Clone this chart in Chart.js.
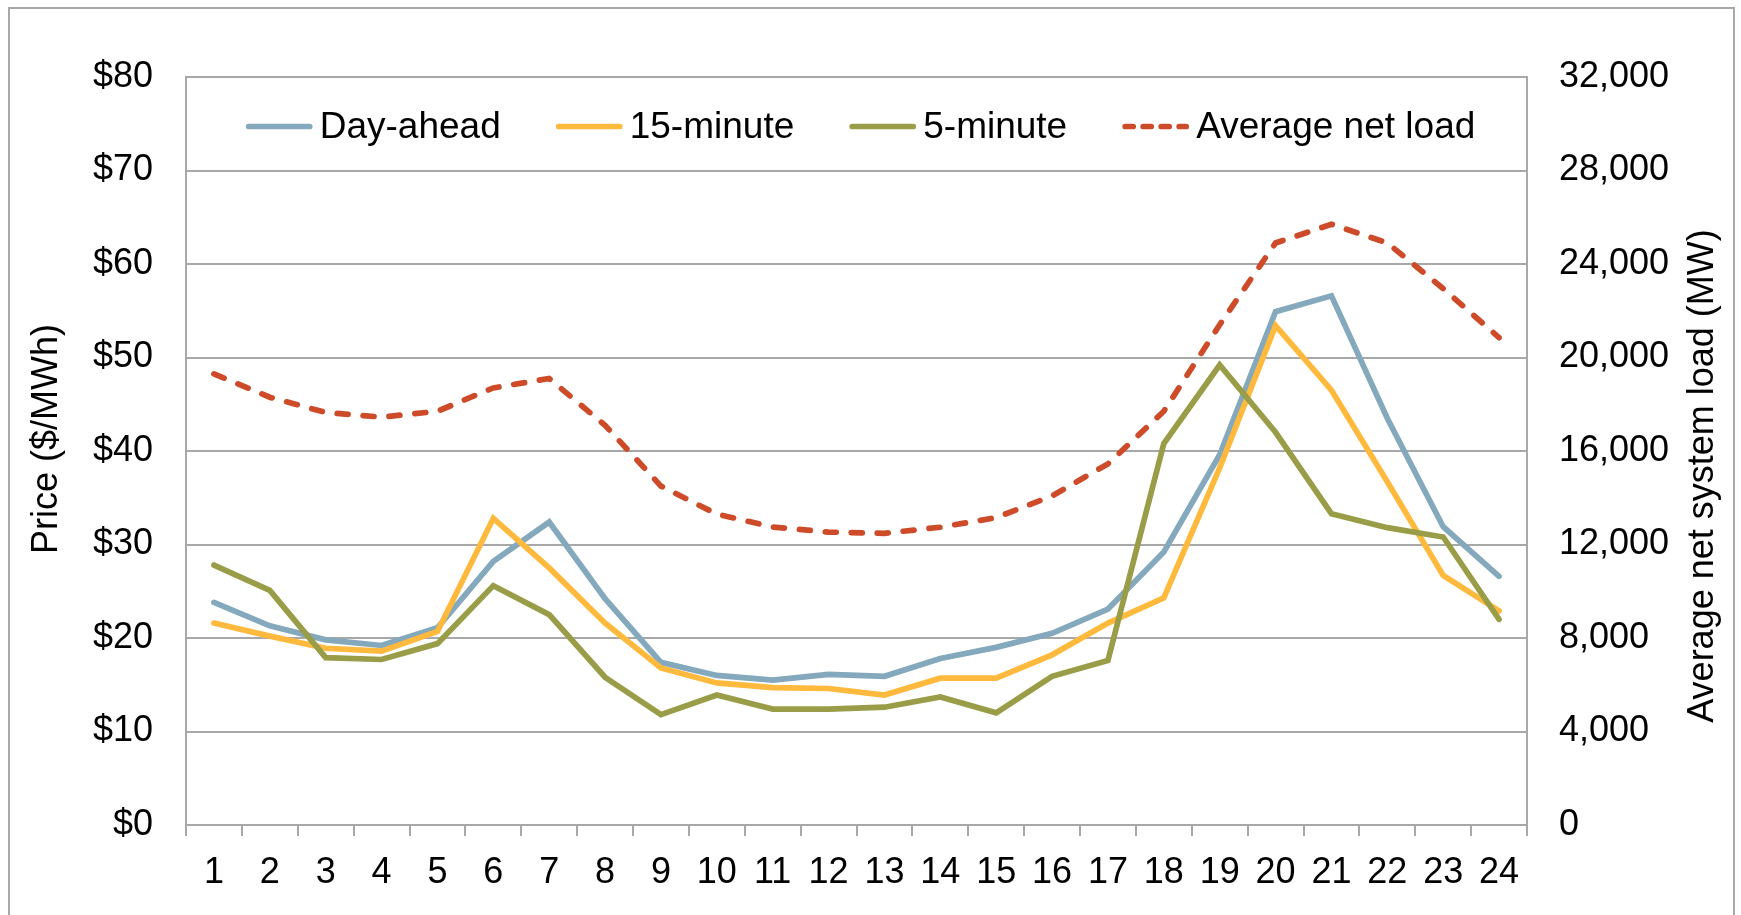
<!DOCTYPE html>
<html lang="en">
<head>
<meta charset="UTF-8">
<title>Hourly prices and average net load</title>
<script src="https://cdn.jsdelivr.net/npm/chart.js"></script>
<style>
  html, body { margin: 0; padding: 0; background: #fff; }
  canvas { display: block; }
</style>
</head>
<body>
<canvas id="grafico" width="1741" height="915"></canvas>

<script>
    const hours = ['1','2','3','4','5','6','7','8','9','10','11','12',
                   '13','14','15','16','17','18','19','20','21','22','23','24'];

    // $/MWh
    const dayAhead = [23.8, 21.3, 19.8, 19.2, 21.1, 28.2, 32.4, 24.2, 17.4, 16.0, 15.5, 16.1,
                      15.9, 17.8, 19.0, 20.5, 23.1, 29.2, 39.6, 54.9, 56.6, 43.5, 31.9, 26.6];
    const fifteenMin = [21.6, 20.2, 18.9, 18.6, 20.7, 32.8, 27.5, 21.6, 16.8, 15.2, 14.7, 14.6,
                        13.9, 15.7, 15.7, 18.2, 21.6, 24.3, 38.2, 53.4, 46.5, 36.7, 26.7, 22.9];
    const fiveMin = [27.8, 25.1, 17.9, 17.7, 19.4, 25.6, 22.5, 15.8, 11.8, 13.9, 12.4, 12.4,
                     12.6, 13.7, 12.0, 15.9, 17.6, 40.8, 49.2, 42.0, 33.3, 31.8, 30.8, 22.0];
    // MW
    const netLoad = [19300, 18300, 17650, 17450, 17700, 18700, 19100, 17100, 14500, 13300, 12750, 12530,
                     12480, 12740, 13150, 14080, 15450, 17700, 21400, 24900, 25700, 24900, 22950, 20850];

    const seriesNames = ['Day-ahead', '15-minute', '5-minute', 'Average net load'];
    const priceTitle = 'Price ($/MWh)';
    const loadTitle = 'Average net system load (MW)';

    const FONT = '"Liberation Sans", Arial, sans-serif';
    const GRAY = '#a8a8a8';

    // frame, axis titles (both read bottom-to-top) and the legend inside the plot
    const extras = {
        id: 'extras',
        beforeDraw(chart) {
            const ctx = chart.ctx;
            ctx.save();
            ctx.fillStyle = '#fff';
            ctx.fillRect(0, 0, chart.width, chart.height);
            ctx.strokeStyle = GRAY;
            ctx.lineWidth = 2;
            ctx.strokeRect(9, 8, 1725, 940);
            ctx.restore();
        },
        afterDraw(chart) {
            const ctx = chart.ctx;
            ctx.save();
            ctx.fillStyle = '#000';
            ctx.font = '36px ' + FONT;
            ctx.textAlign = 'center';
            ctx.textBaseline = 'middle';

            ctx.save();
            ctx.translate(47, 439);
            ctx.rotate(-Math.PI / 2);
            ctx.fillText(priceTitle, 0, 0);
            ctx.restore();

            ctx.save();
            ctx.translate(1703, 476);
            ctx.rotate(-Math.PI / 2);
            ctx.fillText(loadTitle, 0, 0);
            ctx.restore();

            // legend
            ctx.font = '37px ' + FONT;
            const lineW = 67, gapText = 7, gapItem = 55, y = 126.5;
            const ds = chart.data.datasets;
            const widths = ds.map(d => lineW + gapText + ctx.measureText(d.label).width);
            const total = widths.reduce((a, b) => a + b, 0) + gapItem * (ds.length - 1);
            const area = chart.chartArea;
            let x = (area.left + area.right) / 2 - total / 2 + 4;
            ctx.textAlign = 'left';
            ds.forEach((d, i) => {
                ctx.save();
                ctx.strokeStyle = d.borderColor;
                ctx.lineWidth = d.borderWidth;
                ctx.lineCap = 'round';
                ctx.setLineDash(d.borderDash && d.borderDash.length ? [8, 10] : []);
                ctx.beginPath();
                ctx.moveTo(x + 3, y);
                ctx.lineTo(x + lineW - 3, y);
                ctx.stroke();
                ctx.restore();
                ctx.fillText(d.label, x + lineW + gapText, y + 1);
                x += widths[i] + gapItem;
            });
            ctx.restore();
        }
    };

    function lineSet(label, data, color, axis, order) {
        return {
            label: label,
            data: data,
            yAxisID: axis,
            borderColor: color,
            backgroundColor: color,
            borderWidth: 5.7,
            pointRadius: 0,
            pointHoverRadius: 0,
            tension: 0,
            borderJoinStyle: 'miter',
            borderCapStyle: 'round',
            order: order
        };
    }

    const datasets = [
        lineSet(seriesNames[0], dayAhead, '#84a8bc', 'y', 3),
        lineSet(seriesNames[1], fifteenMin, '#ffb93c', 'y', 2),
        lineSet(seriesNames[2], fiveMin, '#9a9d48', 'y', 1),
        Object.assign(lineSet(seriesNames[3], netLoad, '#cd4b29', 'y2', 0), { borderDash: [11, 15] })
    ];

    new Chart(document.getElementById('grafico').getContext('2d'), {
        type: 'line',
        data: { labels: hours, datasets: datasets },
        plugins: [extras],
        options: {
            responsive: false,
            animation: false,
            devicePixelRatio: 1,
            layout: { padding: { top: 77, left: 0, right: 0, bottom: 0 } },
            plugins: {
                legend: { display: false },
                tooltip: { enabled: false }
            },
            scales: {
                x: {
                    offset: true,
                    afterFit: s => { s.height = 90; },
                    grid: { display: true, offset: true, drawOnChartArea: false, drawTicks: true,
                            tickLength: 11, color: GRAY, lineWidth: 2 },
                    border: { display: true, color: GRAY, width: 2 },
                    ticks: { color: '#000', font: { size: 36, family: FONT }, padding: 15,
                             maxRotation: 0, autoSkip: false }
                },
                y: {
                    position: 'left',
                    min: 0,
                    max: 80,
                    afterFit: s => { s.width = 186; },
                    grid: { color: GRAY, lineWidth: 2, drawTicks: false },
                    border: { display: true, color: GRAY, width: 2 },
                    ticks: { stepSize: 10, color: '#000', font: { size: 36, family: FONT }, padding: 33,
                             callback: v => '$' + v }
                },
                y2: {
                    position: 'right',
                    min: 0,
                    max: 32000,
                    afterFit: s => { s.width = 214; },
                    grid: { drawOnChartArea: false, drawTicks: false },
                    border: { display: true, color: GRAY, width: 2 },
                    ticks: { stepSize: 4000, color: '#000', font: { size: 36, family: FONT }, padding: 32,
                             callback: v => v.toLocaleString('en-US') }
                }
            }
        }
    });
</script>
</body>
</html>
